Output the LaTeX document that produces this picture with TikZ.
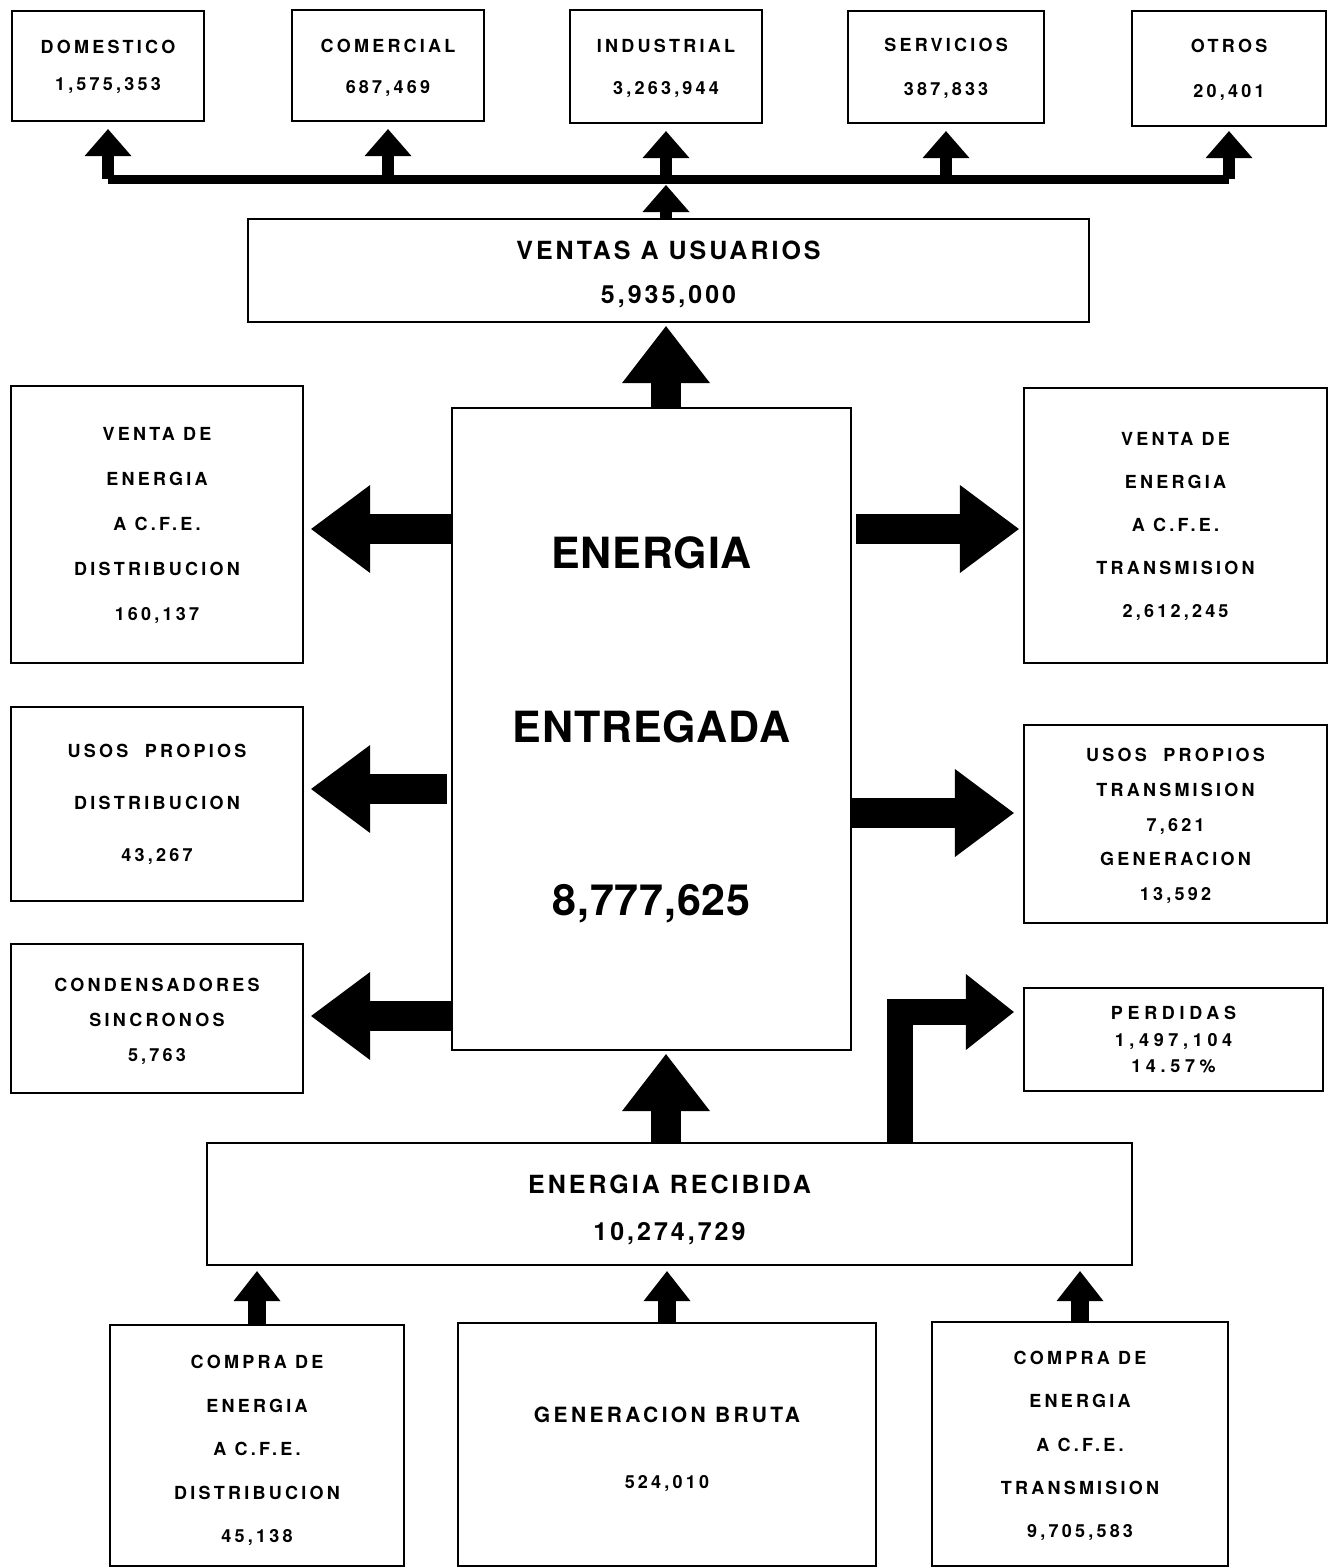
\documentclass[tikz,border=0pt]{standalone}
\usepackage{fontspec}
\setmainfont{TeX Gyre Heros}
\newfontfamily\lblfont{TeX Gyre Heros}[LetterSpace=18]
\newfontfamily\midfont{TeX Gyre Heros}[LetterSpace=12]
\newfontfamily\perdfont{TeX Gyre Heros}[LetterSpace=26]
\newfontfamily\genfont{TeX Gyre Heros}[LetterSpace=16]
\newfontfamily\bigfont{TeX Gyre Heros}[LetterSpace=2]
\usetikzlibrary{arrows.meta,fit}
\tikzset{
  box/.style={draw, line width=1.1pt, inner sep=0pt},
  txt/.style={align=center, inner sep=0pt},
  lbl/.style={txt, font=\lblfont\bfseries\fontsize{9}{#1}\selectfont},
  midlbl/.style={txt, font=\midfont\bfseries\fontsize{12.5}{#1}\selectfont},
  mainarr/.style={line width=15pt, -{Triangle[width=44pt,length=28.5pt,line width=0pt]}},
  sidearr/.style={line width=15pt, -{Triangle[width=44pt,length=29.5pt,line width=0pt]}},
  perdarr/.style={line width=13pt, line join=miter, -{Triangle[width=38pt,length=24pt,line width=0pt]}},
  smallarr/.style={line width=9pt, -{Triangle[width=23.5pt,length=15pt,line width=0pt]}},
  toparr/.style={line width=6pt, -{Triangle[width=23.5pt,length=13.5pt,line width=0pt]}},
  busline/.style={line width=4.5pt},
}
\begin{document}
\begin{tikzpicture}[x=0.5pt,y=-0.5pt]
\useasboundingbox (0,0) rectangle (1333,1568);

% top row
\node[box, fit={(12,11)(204,121)}] (dom) {};
\node[lbl=18.5, yshift=-0.5pt] (domt) at (dom.center) {DOMESTICO\\1,575,353};
\node[box, fit={(292,10)(484,121)}] (com) {};
\node[lbl=20.5, yshift=-1pt] (comt) at (com.center) {COMERCIAL\\687,469};
\node[box, fit={(570,10)(762,123)}] (ind) {};
\node[lbl=21, yshift=-1pt] (indt) at (ind.center) {INDUSTRIAL\\3,263,944};
\node[box, fit={(848,11)(1044,123)}] (serv) {};
\node[lbl=22, yshift=-0.5pt] (servt) at (serv.center) {SERVICIOS\\387,833};
\node[box, fit={(1132,11)(1326,126)}] (otros) {};
\node[lbl=22.5, yshift=-0.5pt] (otrost) at (otros.center) {OTROS\\20,401};

\node[box, fit={(248,219)(1089,322)}] (ventas) {};
\node[midlbl=22, yshift=-2pt] (ventast) at (ventas.center) {VENTAS A USUARIOS\\5,935,000};

\node[box, fit={(452,408)(851,1050)}] (entregada) {};
\node[txt, font=\bigfont\bfseries\fontsize{21.5}{86.75}\selectfont, yshift=-0.5pt] (entregadat) at (entregada.center) {ENERGIA\\ENTREGADA\\8,777,625};

% left boxes
\node[box, fit={(11,386)(303,663)}] (vdist) {};
\node[lbl=22.5, yshift=-0.5pt] (vdistt) at (vdist.center) {VENTA DE\\ENERGIA\\A C.F.E.\\DISTRIBUCION\\160,137};
\node[box, fit={(11,707)(303,901)}] (udist) {};
\node[lbl=26] (udistt) at (udist.center) {USOS\ \ PROPIOS\\DISTRIBUCION\\43,267};
\node[box, fit={(11,944)(303,1093)}] (cond) {};
\node[lbl=17.5, yshift=-1.5pt] (condt) at (cond.center) {CONDENSADORES\\SINCRONOS\\5,763};

% right boxes
\node[box, fit={(1024,388)(1327,663)}] (vtrans) {};
\node[lbl=21.5, yshift=-0.5pt] (vtranst) at (vtrans.center) {VENTA DE\\ENERGIA\\A C.F.E.\\TRANSMISION\\2,612,245};
\node[box, fit={(1024,725)(1327,923)}] (utrans) {};
\node[lbl=17.4, yshift=-1pt] (utranst) at (utrans.center) {USOS\ \ PROPIOS\\TRANSMISION\\7,621\\GENERACION\\13,592};
\node[box, fit={(1024,988)(1323,1091)}] (perd) {};
\node[txt, font=\perdfont\bfseries\fontsize{9}{13.25}\selectfont] (perdt) at (perd.center) {PERDIDAS\\1,497,104\\14.57\%};

\node[box, fit={(207,1143)(1132,1265)}] (recibida) {};
\node[midlbl=23.5, yshift=-3pt] (recibidat) at (recibida.center) {ENERGIA RECIBIDA\\10,274,729};

% bottom boxes
\node[box, fit={(110,1325)(404,1566)}] (cdist) {};
\node[lbl=21.75, yshift=-2.5pt] (cdistt) at (cdist.center) {COMPRA DE\\ENERGIA\\A C.F.E.\\DISTRIBUCION\\45,138};
\node[box, fit={(458,1323)(876,1566)}] (gen) {};
\node[txt, font=\genfont\bfseries\fontsize{10.5}{33}\selectfont, yshift=-2.5pt] (gent) at (gen.center) {GENERACION BRUTA\\{\lblfont\fontsize{9}{33}\selectfont 524,010}};
\node[box, fit={(932,1322)(1228,1566)}] (ctrans) {};
\node[lbl=21.6, yshift=-1pt] (ctranst) at (ctrans.center) {COMPRA DE\\ENERGIA\\A C.F.E.\\TRANSMISION\\9,705,583};

% helper coordinates
\coordinate (busy) at (0,179);
\coordinate (ya) at (0,529);
\coordinate (yb) at (0,789);
\coordinate (yc) at (0,813);
\coordinate (yd) at (0,1016);
\coordinate (pk) at (900,1012);
\coordinate (mx) at (666,0);

% bus and top arrows
\draw[busline] (dom.south |- busy) -- (otros.south |- busy);
\draw[toparr, shorten >=3.5pt] (dom.south |- busy) -- (dom.south);
\draw[toparr, shorten >=3.5pt] (com.south |- busy) -- (com.south);
\draw[toparr, shorten >=3.5pt] (ind.south |- busy) -- (ind.south);
\draw[toparr, shorten >=3.5pt] (serv.south |- busy) -- (serv.south);
\draw[toparr, shorten >=2pt] (otros.south |- busy) -- (otros.south);
\draw[toparr, shorten >=3pt] (ind.south |- ventas.north) -- (ind.south |- busy);

% main vertical arrows
\draw[mainarr, shorten >=1.5pt] (mx |- entregada.north) -- (mx |- ventas.south);
\draw[mainarr, shorten >=1.5pt] (mx |- recibida.north) -- (mx |- entregada.south);

% left arrows
\draw[sidearr, shorten >=3.5pt] (entregada.west |- ya) -- (vdist.east |- ya);
\draw[sidearr, shorten >=3.5pt, shorten <=2pt] (entregada.west |- yb) -- (udist.east |- yb);
\draw[sidearr, shorten >=3.5pt] (entregada.west |- yd) -- (cond.east |- yd);

% right arrows
\draw[sidearr, shorten >=2pt, shorten <=2pt] (entregada.east |- ya) -- (vtrans.west |- ya);
\draw[sidearr, shorten >=4.5pt] (entregada.east |- yc) -- (utrans.west |- yc);

% perdidas elbow
\draw[perdarr, shorten >=4.5pt] (recibida.north -| pk) -- (pk) -- (perd.west |- pk);

% bottom arrows
\draw[smallarr, shorten >=2.5pt] (cdist.north) -- (cdist.north |- recibida.south);
\draw[smallarr, shorten >=2.5pt] (gen.north) -- (gen.north |- recibida.south);
\draw[smallarr, shorten >=2.5pt] (ctrans.north) -- (ctrans.north |- recibida.south);
\end{tikzpicture}
\end{document}
